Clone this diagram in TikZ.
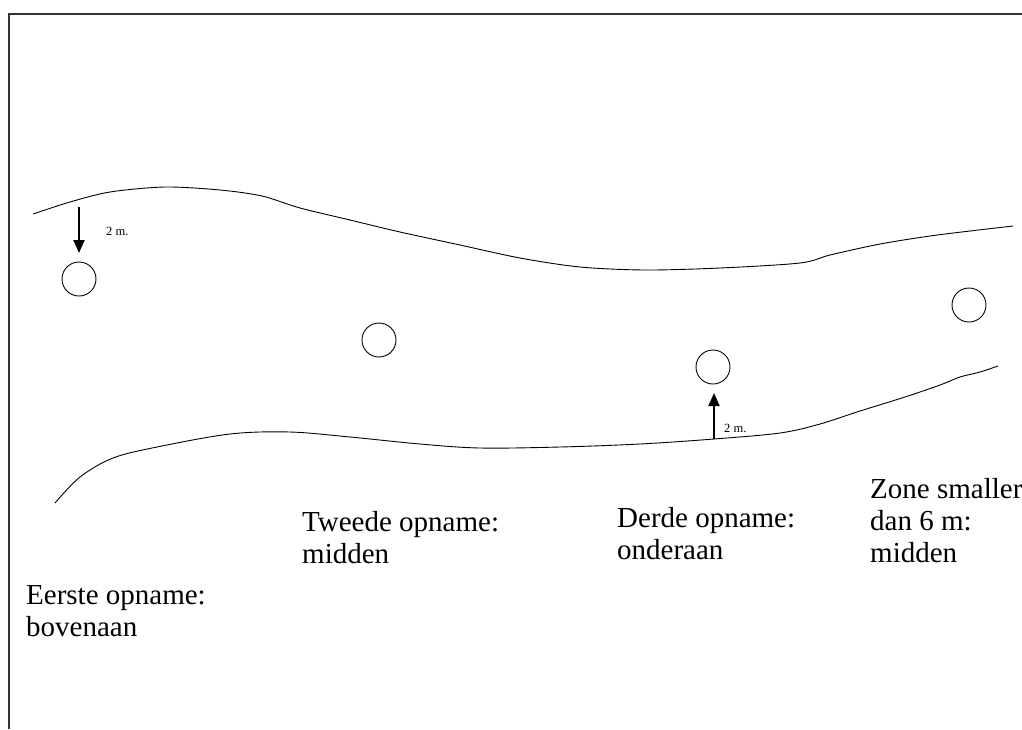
\documentclass[tikz,border=0pt]{standalone}
\usepackage{fontspec}
\setmainfont{Liberation Serif}
\usetikzlibrary{arrows.meta}
\begin{document}
\begin{tikzpicture}[x=1pt,y=-1pt,
  bank/.style={line width=0.9pt, line join=round},
  plotspot/.style={draw, circle, minimum size=34pt, inner sep=0pt, line width=0.9pt},
  gap/.style={line width=2pt, -{Triangle[length=13pt,width=11pt]}},
  gaplabel/.style={font=\fontsize{12.5}{14}\selectfont, anchor=base west, inner sep=0pt},
  caption/.style={font=\fontsize{29}{32}\selectfont, align=left, anchor=north west, inner sep=0pt}]
\useasboundingbox (0,0) rectangle (1022,729);

% page frame (top and left edges)
\draw[line width=1.6pt, black!80] (9,729) -- (9,14) -- (1022,14);

% upper bank of the stream
\draw[bank] plot[smooth, tension=0.5] coordinates {
  (33,214) (70,202) (110,192) (165,187) (220,190) (262,196) (300,208)
  (350,220) (400,232) (460,245) (520,258) (580,267) (645,270) (720,268)
  (800,263) (830,255) (880,244) (930,236) (970,231) (1013,226)};

% lower bank of the stream
\draw[bank] plot[smooth, tension=0.55] coordinates {
  (55,503) (80,477) (113,458) (157,447) (230,434) (290,432) (350,437)
  (420,444) (480,448) (560,447) (640,444) (714,439) (780,433) (820,424)
  (860,411) (905,397) (940,385) (960,377) (980,372) (998,366)};

% sampling spots
\node[plotspot] (s1) at (79,279) {};
\node[plotspot] (s2) at (379,340) {};
\node[plotspot] (s3) at (713,367) {};
\node[plotspot] (s4) at (969,305) {};

% distance markers from the banks
\coordinate (top1) at (79,207);
\coordinate (end1) at (79,253);
\draw[gap] (top1) -- (end1);
\node[gaplabel] (d1) at (106,235) {2 m.};

\coordinate (bot3) at (714,439);
\coordinate (end3) at (714,393);
\draw[gap] (bot3) -- (end3);
\node[gaplabel] (d3) at (724,432) {2 m.};

% captions
\node[caption] (c1) at (26,585) {Eerste opname:\\bovenaan};
\node[caption] (c2) at (302,511) {Tweede opname:\\midden};
\node[caption] (c3) at (617,507) {Derde opname:\\onderaan};
\node[caption] (c4) at (870,478) {Zone smaller\\dan 6 m:\\midden};
\end{tikzpicture}
\end{document}
